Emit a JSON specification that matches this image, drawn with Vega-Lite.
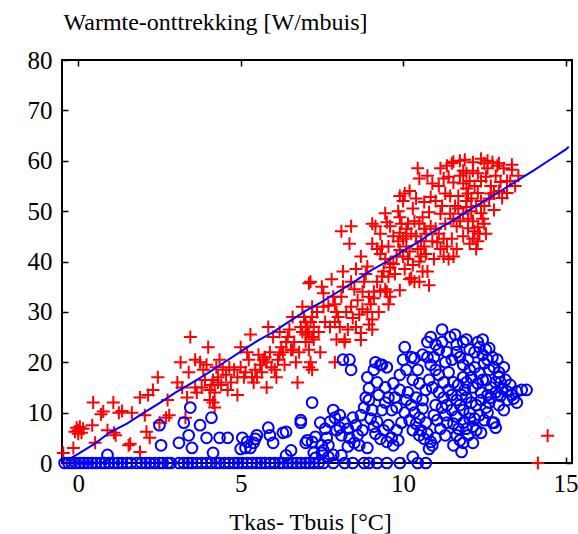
{
"$schema": "https://vega.github.io/schema/vega-lite/v6.json",
"width": 510, "height": 403,
"autosize": {"type": "none"},
"padding": {"left": 62, "top": 60, "right": 6, "bottom": 71},
"background": "white",
"config": {
 "view": {"stroke": "black", "strokeWidth": 2},
 "font": "Times New Roman, Liberation Serif, serif",
 "axis": {"domain": false, "grid": false, "ticks": true, "tickSize": -6, "tickColor": "black", "tickWidth": 1.5,
   "labelFont": "Times New Roman, Liberation Serif, serif", "labelFontSize": 25, "labelColor": "black",
   "titleFont": "Times New Roman, Liberation Serif, serif", "titleFontSize": 24, "titleFontWeight": "normal", "titleColor": "black"}
},
"datasets": {
 "red": [
  {"x":-0.46,"y":2},{"x":-0.15,"y":3},{"x":-0.1,"y":6.2},{"x":-0.05,"y":7},{"x":0.0,"y":6.5},{"x":0.05,"y":7.2},{"x":0.1,"y":6},{"x":0.15,"y":6.8},{"x":0.0,"y":5.8},{"x":0.46,"y":12},{"x":0.43,"y":7.5},{"x":0.52,"y":4},{"x":0.7,"y":9.7},{"x":0.77,"y":10.2},{"x":0.9,"y":6.5},{"x":1.08,"y":12},{"x":1.1,"y":6},{"x":1.15,"y":5.5},{"x":1.25,"y":10},{"x":1.35,"y":10.3},{"x":1.55,"y":3.5},{"x":1.6,"y":3.8},{"x":1.65,"y":10},{"x":1.9,"y":13},{"x":1.9,"y":2.2},{"x":2.05,"y":9.5},{"x":2.1,"y":6.2},{"x":2.15,"y":13.5},{"x":2.2,"y":5},{"x":2.3,"y":14.5},{"x":2.45,"y":17},{"x":2.5,"y":8},{"x":2.7,"y":9},{"x":2.75,"y":12.5},{"x":2.8,"y":9.5},{"x":3.05,"y":16},{"x":3.15,"y":20},{"x":3.2,"y":15},{"x":3.3,"y":9},{"x":3.35,"y":13},{"x":3.4,"y":18},{"x":3.45,"y":25},{"x":3.6,"y":20.5},{"x":3.6,"y":15},{"x":3.65,"y":14},{"x":3.75,"y":20},{"x":3.8,"y":15},{"x":3.85,"y":18.5},{"x":3.95,"y":19.5},{"x":4.0,"y":23},{"x":4.05,"y":14.5},{"x":4.1,"y":15.5},{"x":4.15,"y":16.5},{"x":4.2,"y":14},{"x":4.3,"y":16},{"x":4.05,"y":12.5},{"x":4.15,"y":12},{"x":4.2,"y":11},{"x":4.3,"y":17},{"x":4.35,"y":20.5},{"x":4.4,"y":15.5},{"x":4.45,"y":18.5},{"x":4.55,"y":17.5},{"x":4.65,"y":19},{"x":4.7,"y":16},{"x":4.9,"y":13.5},{"x":4.9,"y":17},{"x":5.0,"y":23},{"x":5.0,"y":19},{"x":5.1,"y":17},{"x":5.15,"y":18},{"x":5.25,"y":20.5},{"x":5.3,"y":25.5},{"x":5.35,"y":17},{"x":5.4,"y":16},{"x":5.45,"y":18.5},{"x":5.5,"y":17},{"x":5.6,"y":19.5},{"x":5.7,"y":20.5},{"x":5.75,"y":21},{"x":5.8,"y":20},{"x":5.8,"y":15},{"x":5.85,"y":27},{"x":5.9,"y":22},{"x":6.0,"y":25},{"x":6.05,"y":18.5},{"x":6.1,"y":17},{"x":6.15,"y":20.5},{"x":6.25,"y":23},{"x":6.3,"y":22},{"x":6.4,"y":24},{"x":6.45,"y":25},{"x":6.55,"y":22.5},{"x":6.6,"y":22.5},{"x":6.7,"y":20},{"x":6.75,"y":16},{"x":6.9,"y":26},{"x":6.95,"y":29},{"x":7.0,"y":28},{"x":7.05,"y":26},{"x":7.1,"y":19},{"x":7.15,"y":36},{"x":7.2,"y":29},{"x":7.2,"y":31},{"x":7.25,"y":27},
  {"x":7.1,"y":35.7},{"x":7.0,"y":24},{"x":7.1,"y":26},{"x":7.05,"y":27},{"x":7.2,"y":25},{"x":7.15,"y":28},{"x":7.0,"y":25.5},{"x":7.25,"y":24.5},{"x":7.55,"y":33.7},{"x":7.55,"y":31},{"x":7.7,"y":31.2},{"x":7.6,"y":28},{"x":7.75,"y":27},{"x":7.9,"y":31.5},{"x":7.95,"y":30},{"x":8.0,"y":29},{"x":7.9,"y":28},{"x":8.05,"y":27},{"x":7.95,"y":24.5},{"x":8.2,"y":24.5},{"x":8.1,"y":33},{"x":8.15,"y":35},{"x":8.1,"y":46},{"x":8.4,"y":47},{"x":8.35,"y":43.5},{"x":8.15,"y":38},{"x":8.4,"y":36},{"x":8.5,"y":34.5},{"x":8.4,"y":31},{"x":8.45,"y":28.8},{"x":8.7,"y":25.8},{"x":8.6,"y":32.3},{"x":8.75,"y":34},{"x":8.8,"y":36},{"x":8.85,"y":37.5},{"x":8.9,"y":39},{"x":8.75,"y":30.5},{"x":8.9,"y":30},{"x":9.0,"y":31.5},{"x":9.05,"y":28.5},{"x":8.95,"y":27.5},{"x":9.05,"y":26.5},{"x":9.1,"y":32.7},{"x":9.1,"y":34},{"x":9.3,"y":34.2},{"x":9.05,"y":43.5},{"x":9.2,"y":42.5},{"x":9.35,"y":43},{"x":9.05,"y":47.5},{"x":9.15,"y":47},{"x":9.45,"y":49.6},{"x":9.5,"y":47.8},{"x":9.3,"y":41.5},{"x":9.55,"y":43},{"x":9.45,"y":40.5},{"x":9.6,"y":39.7},{"x":9.4,"y":38},{"x":9.55,"y":37},{"x":9.6,"y":38.8},{"x":9.7,"y":39.5},{"x":9.75,"y":37.5},{"x":9.5,"y":34},{"x":9.6,"y":33},{"x":9.55,"y":31.5},{"x":9.45,"y":34.5},{"x":9.9,"y":34.3},{"x":9.9,"y":53},{"x":10.0,"y":52},{"x":10.05,"y":53.5},{"x":9.9,"y":48.8},{"x":9.95,"y":47.5},{"x":10.1,"y":46.5},{"x":10.15,"y":47.5},{"x":9.9,"y":45.7},{"x":10.1,"y":45},{"x":10.0,"y":44.5},{"x":10.25,"y":45.5},{"x":10.1,"y":43},{"x":9.9,"y":42.3},{"x":10.0,"y":41},{"x":10.15,"y":40.5},{"x":10.2,"y":42},{"x":10.3,"y":39.3},{"x":10.25,"y":36.7},{"x":10.35,"y":36},{"x":10.2,"y":36.5},{"x":10.5,"y":36},{"x":10.6,"y":38},{"x":10.75,"y":38},{"x":10.8,"y":35.3},{"x":10.45,"y":42.5},{"x":10.55,"y":41},{"x":10.7,"y":41.5},{"x":10.5,"y":40},{"x":10.65,"y":43},{"x":10.35,"y":48},{"x":10.5,"y":47.5},{"x":10.65,"y":46.5},{"x":10.6,"y":48.8},{"x":10.8,"y":49.8},{"x":10.85,"y":47},{"x":10.7,"y":45.5},{"x":10.5,"y":56.5},{"x":10.75,"y":57},{"x":10.45,"y":58.5},{"x":10.4,"y":52.5},{"x":10.65,"y":51.8},{"x":10.85,"y":52.8},{"x":11.0,"y":52},{"x":11.15,"y":49.5},{"x":11.0,"y":46.5},{"x":11.1,"y":45.5},{"x":11.05,"y":43.8},{"x":11.25,"y":44.5},{"x":11.15,"y":42.5},{"x":11.15,"y":58.5},{"x":11.35,"y":59},{"x":11.5,"y":59.5},{"x":11.25,"y":56.5},{"x":11.4,"y":56.8},{"x":11.55,"y":55.7},{"x":11.45,"y":53},{"x":11.6,"y":51},{"x":11.4,"y":40.5},{"x":11.55,"y":41},{"x":11.35,"y":43},{"x":11.65,"y":42.5},{"x":11.5,"y":44.5},{"x":11.65,"y":47},{"x":11.55,"y":48.5},{"x":11.75,"y":48},{"x":11.7,"y":50.5},{"x":11.85,"y":49.5},{"x":11.55,"y":59.8},{"x":11.75,"y":60},{"x":11.9,"y":60.2},{"x":11.85,"y":58},{"x":11.85,"y":55.5},{"x":11.95,"y":54.5},{"x":12.05,"y":56},{"x":12.0,"y":53.5},{"x":12.1,"y":52.5},{"x":11.95,"y":52},{"x":11.95,"y":50.8},{"x":12.1,"y":50},{"x":12.0,"y":48.5},{"x":12.15,"y":48},{"x":12.0,"y":46.6},{"x":12.2,"y":46},{"x":12.3,"y":46.8},{"x":12.35,"y":45.5},{"x":12.15,"y":44.5},{"x":12.3,"y":44},{"x":12.15,"y":59.7},{"x":12.4,"y":60.4},{"x":12.5,"y":59.5},{"x":12.6,"y":60},{"x":12.75,"y":59.7},{"x":12.9,"y":59},{"x":12.95,"y":59.5},{"x":12.3,"y":57.5},{"x":12.4,"y":56},{"x":12.55,"y":56.8},{"x":12.7,"y":55},{"x":12.85,"y":57},{"x":13.0,"y":55.8},{"x":13.2,"y":56},{"x":12.3,"y":53.6},{"x":12.4,"y":52},{"x":12.5,"y":51},{"x":12.65,"y":52.5},{"x":12.8,"y":53.5},{"x":12.4,"y":49.6},{"x":12.45,"y":48.5},{"x":12.8,"y":50.2},{"x":13.35,"y":59.2},{"x":13.35,"y":58.2},{"x":13.55,"y":57},{"x":13.3,"y":56},{"x":13.05,"y":52.6},{"x":13.2,"y":53.6},
  {"x":7.9,"y":20},{"x":8.2,"y":24},{"x":8.7,"y":24.4},{"x":7.2,"y":18.5},{"x":7.15,"y":20},{"x":7.1,"y":22.5},{"x":14.45,"y":5.4},{"x":14.15,"y":0},
  {"x":5.55,"y":21.5},{"x":5.65,"y":18},{"x":5.95,"y":19},{"x":6.2,"y":21.5},{"x":6.35,"y":19.5},{"x":6.5,"y":26.5},{"x":6.65,"y":24},{"x":6.8,"y":22},{"x":6.85,"y":27},{"x":5.2,"y":22},{"x":4.8,"y":18.5},{"x":4.6,"y":14.5},{"x":4.25,"y":19},{"x":3.9,"y":16.5},{"x":6.2,"y":26},{"x":6.6,"y":29},{"x":6.9,"y":31},{"x":7.35,"y":30},{"x":7.4,"y":26},{"x":7.45,"y":22},{"x":7.5,"y":35},{"x":7.8,"y":36.5},{"x":7.85,"y":33},{"x":8.25,"y":30},{"x":8.3,"y":26.5},{"x":8.55,"y":27},{"x":8.65,"y":29.5},{"x":8.95,"y":33},{"x":9.2,"y":36},{"x":9.25,"y":30},{"x":9.35,"y":37},{"x":9.8,"y":41},{"x":9.85,"y":44},{"x":10.05,"y":38.5},{"x":10.4,"y":45},{"x":10.55,"y":44},{"x":10.9,"y":44},{"x":10.95,"y":40.5},{"x":11.25,"y":41},{"x":11.3,"y":47.5},{"x":11.45,"y":49.5},{"x":11.2,"y":51},{"x":11.3,"y":53.5},{"x":11.1,"y":55},{"x":11.7,"y":53},{"x":11.75,"y":57},{"x":12.2,"y":55},{"x":12.25,"y":51},{"x":12.6,"y":58.5},{"x":12.7,"y":53.5},{"x":12.95,"y":54},{"x":12.15,"y":58},{"x":11.95,"y":57.5},{"x":10.9,"y":55.5},{"x":10.2,"y":54},{"x":10.3,"y":50.5},{"x":9.7,"y":45},{"x":9.6,"y":47},{"x":9.85,"y":50},{"x":9.3,"y":45.5},{"x":8.7,"y":41},{"x":8.55,"y":38.5},{"x":12.5,"y":47.5},{"x":12.55,"y":45.5},{"x":12.25,"y":42.5},{"x":12.05,"y":43.5},{"x":11.85,"y":45},{"x":13.1,"y":58.5},{"x":13.45,"y":55}
 ],
 "blue": [
  {"x":-0.42,"y":0},{"x":-0.3,"y":0},{"x":-0.2,"y":0},{"x":-0.08,"y":0},{"x":0.05,"y":0},{"x":0.18,"y":0},{"x":0.3,"y":0},{"x":0.42,"y":0},{"x":0.55,"y":0},{"x":0.7,"y":0},{"x":0.82,"y":0},{"x":0.95,"y":0},{"x":1.1,"y":0},{"x":1.22,"y":0},{"x":1.35,"y":0},{"x":1.5,"y":0},{"x":1.62,"y":0},{"x":1.8,"y":0},{"x":1.95,"y":0},{"x":2.08,"y":0},{"x":2.2,"y":0},{"x":2.35,"y":0},{"x":2.5,"y":0},{"x":2.6,"y":0},{"x":2.75,"y":0},{"x":2.85,"y":0},{"x":3.1,"y":0},{"x":3.25,"y":0},{"x":3.38,"y":0},{"x":3.5,"y":0},{"x":3.65,"y":0},{"x":3.8,"y":0},{"x":3.95,"y":0},{"x":4.1,"y":0},{"x":4.25,"y":0},{"x":4.35,"y":0},{"x":4.5,"y":0},{"x":4.65,"y":0},{"x":4.8,"y":0},{"x":4.92,"y":0},{"x":5.05,"y":0},{"x":5.2,"y":0},{"x":5.35,"y":0},{"x":5.5,"y":0},{"x":5.62,"y":0},{"x":5.75,"y":0},{"x":5.9,"y":0},{"x":6.05,"y":0},{"x":6.2,"y":0},{"x":6.3,"y":0},{"x":6.45,"y":0},{"x":6.6,"y":0},{"x":6.72,"y":0},{"x":6.85,"y":0},{"x":7.0,"y":0},{"x":7.12,"y":0},{"x":7.25,"y":0},{"x":7.4,"y":0},{"x":7.55,"y":0},{"x":7.85,"y":0},{"x":8.2,"y":0},{"x":8.45,"y":0},{"x":8.8,"y":0},{"x":8.95,"y":0},{"x":9.2,"y":0},{"x":9.5,"y":0},{"x":9.9,"y":0},{"x":10.45,"y":0},{"x":10.7,"y":0},
  {"x":7.3,"y":1},{"x":7.5,"y":2},{"x":7.7,"y":1.2},{"x":8.1,"y":1.5},
  {"x":0.9,"y":1.6},{"x":2.5,"y":7.5},{"x":2.55,"y":3.5},{"x":3.1,"y":4},{"x":3.25,"y":8},{"x":3.45,"y":11},{"x":3.4,"y":5.5},{"x":3.5,"y":3},{"x":3.75,"y":7.5},{"x":3.95,"y":5},{"x":4.1,"y":9},{"x":4.15,"y":2},{"x":4.35,"y":5},{"x":4.6,"y":5},{"x":5.0,"y":2.8},{"x":5.05,"y":5},{"x":5.15,"y":3},{"x":5.2,"y":4.2},{"x":5.3,"y":3},{"x":5.4,"y":4},{"x":5.45,"y":4.8},{"x":5.5,"y":5.5},{"x":5.85,"y":7},{"x":5.9,"y":5.5},{"x":6.0,"y":4},{"x":6.3,"y":6},{"x":6.4,"y":6.2},{"x":6.4,"y":1.5},{"x":6.55,"y":2.5},{"x":6.85,"y":8},{"x":7.0,"y":4},{"x":7.2,"y":4.2},{"x":7.2,"y":12},{"x":7.25,"y":2},{"x":6.85,"y":8.5},{"x":7.45,"y":8},{"x":7.85,"y":10.5},{"x":7.9,"y":9},{"x":8.05,"y":9.5},{"x":8.15,"y":20.5},{"x":8.35,"y":20.5},{"x":8.4,"y":18.5},{"x":9.15,"y":20},{"x":9.35,"y":19.5},{"x":9.5,"y":19},{"x":7.05,"y":4.5},{"x":7.3,"y":5.2},{"x":7.5,"y":3.5},{"x":7.55,"y":2.5},{"x":7.65,"y":5},{"x":7.7,"y":3.5},{"x":7.85,"y":1.6},{"x":7.95,"y":6.5},{"x":8.05,"y":7},{"x":8.1,"y":5.5},{"x":8.3,"y":6.8},{"x":8.35,"y":5},{"x":8.3,"y":3.3},{"x":8.5,"y":4},{"x":8.65,"y":3.5},{"x":8.6,"y":5.5},{"x":8.55,"y":7.5},{"x":8.9,"y":3},{"x":9.0,"y":8.8},{"x":9.2,"y":8.2},{"x":9.1,"y":7.2},{"x":9.4,"y":6.5},{"x":9.55,"y":7.5},{"x":9.3,"y":4.8},{"x":9.5,"y":4.2},{"x":9.65,"y":5},{"x":9.7,"y":3.5},{"x":9.8,"y":6.5},{"x":8.95,"y":12.5},{"x":8.85,"y":13},{"x":8.95,"y":14.8},{"x":9.2,"y":16},{"x":9.45,"y":15},{"x":9.45,"y":12},{"x":9.7,"y":15.8},{"x":9.65,"y":10.5},{"x":9.8,"y":11},{"x":9.9,"y":17.5},{"x":10.0,"y":20.5},{"x":10.05,"y":23},{"x":10.25,"y":21},{"x":10.35,"y":20.8},{"x":10.45,"y":18.5},{"x":10.3,"y":16.5},{"x":10.5,"y":15.8},{"x":10.1,"y":12.5},{"x":10.25,"y":11.5},{"x":10.35,"y":10},{"x":10.5,"y":9},{"x":10.6,"y":10.8},{"x":10.2,"y":8.5},{"x":10.4,"y":7.8},{"x":10.55,"y":6.5},{"x":10.3,"y":6.5},{"x":10.5,"y":5.5},{"x":10.65,"y":4.8},{"x":10.75,"y":5.8},{"x":10.85,"y":4.2},{"x":11.0,"y":5},{"x":10.8,"y":2.8},{"x":10.9,"y":3.5},{"x":11.15,"y":6.8},{"x":10.3,"y":1.2},{"x":10.75,"y":24},{"x":10.85,"y":25},{"x":11.0,"y":23.5},{"x":11.1,"y":22.5},{"x":11.2,"y":26.5},{"x":11.35,"y":22},{"x":10.85,"y":19.5},{"x":11.0,"y":18.5},{"x":11.1,"y":17.5},{"x":11.3,"y":20},{"x":11.4,"y":18},{"x":11.5,"y":20.5},{"x":11.65,"y":22},{"x":10.9,"y":15},{"x":11.1,"y":14},{"x":11.25,"y":13},{"x":11.4,"y":14.5},{"x":11.5,"y":13.5},{"x":11.55,"y":16},{"x":11.7,"y":15.5},{"x":11.85,"y":17},{"x":11.65,"y":12.5},{"x":11.2,"y":11},{"x":11.0,"y":11.5},{"x":11.5,"y":10.5},{"x":11.65,"y":9.2},{"x":11.85,"y":10.5},{"x":11.35,"y":8},{"x":11.55,"y":7.8},{"x":11.7,"y":6.8},{"x":11.85,"y":8},{"x":11.95,"y":6.8},{"x":12.15,"y":7.2},{"x":12.05,"y":8.8},{"x":11.65,"y":5.5},{"x":11.75,"y":4.5},{"x":11.85,"y":4},{"x":12.15,"y":4},{"x":11.8,"y":2.2},{"x":11.65,"y":23.5},{"x":11.85,"y":24},{"x":11.95,"y":24.5},{"x":12.05,"y":22.5},{"x":12.2,"y":22},{"x":12.35,"y":23},{"x":12.45,"y":21.5},{"x":12.55,"y":22.5},{"x":12.65,"y":22.8},{"x":11.85,"y":19.5},{"x":12.05,"y":18.5},{"x":12.2,"y":19},{"x":12.35,"y":17.8},{"x":12.5,"y":19.8},{"x":12.65,"y":18.5},{"x":12.8,"y":19},{"x":12.95,"y":18},{"x":11.95,"y":16},{"x":12.15,"y":15},{"x":12.3,"y":15.8},{"x":12.4,"y":14},{"x":12.55,"y":16.5},{"x":12.7,"y":15},{"x":12.85,"y":16},{"x":12.95,"y":17},{"x":13.05,"y":14.8},{"x":11.95,"y":13},{"x":12.1,"y":12},{"x":12.25,"y":11.5},{"x":12.4,"y":12.5},{"x":12.55,"y":11},{"x":12.7,"y":13},{"x":12.85,"y":14},{"x":13.0,"y":13.3},{"x":13.2,"y":14.2},{"x":13.35,"y":13.5},{"x":12.05,"y":10},{"x":12.2,"y":8.8},{"x":12.35,"y":9.5},{"x":12.5,"y":8.5},{"x":12.6,"y":10},{"x":12.75,"y":8},{"x":12.85,"y":7},{"x":12.4,"y":6},{"x":13.2,"y":12.5},{"x":13.4,"y":12.8},{"x":13.5,"y":14.2},{"x":13.65,"y":14.5},{"x":12.8,"y":8},
  {"x":8.7,"y":9.5},{"x":8.8,"y":11},{"x":9.05,"y":10.5},{"x":9.25,"y":13.5},{"x":9.35,"y":10.5},{"x":9.55,"y":13},{"x":9.75,"y":13},{"x":9.9,"y":14.5},{"x":9.95,"y":8},{"x":10.05,"y":10},{"x":10.15,"y":14},{"x":10.4,"y":13},{"x":10.6,"y":12.5},{"x":10.7,"y":14.5},{"x":10.8,"y":16.5},{"x":10.75,"y":21},{"x":10.95,"y":21},{"x":11.2,"y":24},{"x":11.45,"y":25},{"x":11.6,"y":25.5},{"x":11.75,"y":21},{"x":11.25,"y":16},{"x":11.35,"y":11.5},{"x":11.75,"y":11.5},{"x":11.9,"y":14.5},{"x":12.0,"y":20.5},{"x":12.3,"y":24},{"x":12.45,"y":24.5},{"x":12.6,"y":20.5},{"x":12.75,"y":21},{"x":12.9,"y":20.5},{"x":13.0,"y":16},{"x":13.1,"y":19},{"x":12.95,"y":11.5},{"x":13.1,"y":10.5},{"x":12.25,"y":6.5},{"x":12.0,"y":5.5},{"x":11.55,"y":3.5},{"x":11.3,"y":5.5},{"x":11.05,"y":8.5},{"x":10.95,"y":9.5},{"x":10.7,"y":8},{"x":9.85,"y":4.5},{"x":9.15,"y":5.8},{"x":8.75,"y":6.5},{"x":8.2,"y":8},{"x":8.45,"y":9},{"x":7.6,"y":6.8},{"x":7.75,"y":8.2},{"x":12.1,"y":17},{"x":12.45,"y":16.5},{"x":12.6,"y":13.5},{"x":12.65,"y":12},{"x":13.15,"y":16.5},{"x":13.3,"y":15.5},{"x":13.5,"y":12},{"x":13.8,"y":14.5},{"x":11.3,"y":9.5},{"x":11.8,"y":13.5},{"x":9.1,"y":18.5},{"x":9.3,"y":19.5},{"x":8.9,"y":17},{"x":10.1,"y":18.5},{"x":10.6,"y":21.5}
 ],
 "fit": [
  {"x":-0.35,"y":0.5},{"x":0,"y":1.8},{"x":0.5,"y":3.8},{"x":1.0,"y":6.2},{"x":1.5,"y":7.8},{"x":2.0,"y":9.9},{"x":2.5,"y":11.9},{"x":3.0,"y":14.0},{"x":3.5,"y":15.9},{"x":4.0,"y":17.9},{"x":4.5,"y":20.0},{"x":5.0,"y":22.1},{"x":5.5,"y":24.2},{"x":6.0,"y":26.0},{"x":6.5,"y":28.1},{"x":7.0,"y":30.2},{"x":7.5,"y":32.0},{"x":8.0,"y":34.0},{"x":8.5,"y":36.0},{"x":9.0,"y":38.2},{"x":9.5,"y":40.0},{"x":10.0,"y":42.1},{"x":10.5,"y":44.0},{"x":11.0,"y":46.2},{"x":11.5,"y":48.0},{"x":12.0,"y":50.1},{"x":12.5,"y":52.0},{"x":13.0,"y":54.0},{"x":13.5,"y":56.0},{"x":14.0,"y":58.0},{"x":14.5,"y":60.1},{"x":15.0,"y":62.2},{"x":15.1,"y":62.8}
 ]
},
"layer": [
 {
  "data": {"name": "red"},
  "mark": {"type": "point", "shape": "M-1,0H1M0,-1V1", "size": 169, "stroke": "#ff0000", "strokeWidth": 2, "filled": false, "opacity": 1},
  "encoding": {
   "x": {"field": "x", "type": "quantitative", "scale": {"domain": [-0.5, 15.2], "nice": false, "zero": false},
     "axis": {"orient": "bottom", "values": [0, 5, 10, 15], "labelPadding": 14, "title": "Tkas- Tbuis [°C]", "titleAlign": "center", "titleBaseline": "alphabetic", "titleX": 248, "titleY": 66}},
   "y": {"field": "y", "type": "quantitative", "scale": {"domain": [0, 80], "nice": false, "zero": false},
     "axis": {"orient": "left", "values": [0,10,20,30,40,50,60,70,80], "labelPadding": 16, "title": "Warmte-onttrekking [W/mbuis]", "titleAngle": 0, "titleAlign": "left", "titleBaseline": "alphabetic", "titleX": 1, "titleY": -31}}
  }
 },
 {
  "data": {"name": "blue"},
  "mark": {"type": "point", "shape": "circle", "size": 115, "stroke": "#0000ff", "strokeWidth": 2, "filled": false, "opacity": 1},
  "encoding": {
   "x": {"field": "x", "type": "quantitative", "axis": null},
   "y": {"field": "y", "type": "quantitative", "axis": null}
  }
 },
 {
  "data": {"name": "fit"},
  "mark": {"type": "line", "color": "#0000ff", "strokeWidth": 2},
  "encoding": {
   "x": {"field": "x", "type": "quantitative", "axis": {"orient": "top", "values": [0, 5, 10, 15], "labels": false, "title": null}},
   "y": {"field": "y", "type": "quantitative", "axis": {"orient": "right", "values": [0,10,20,30,40,50,60,70,80], "labels": false, "title": null}}
  }
 }
],
"resolve": {"axis": {"x": "independent", "y": "independent"}}
}
